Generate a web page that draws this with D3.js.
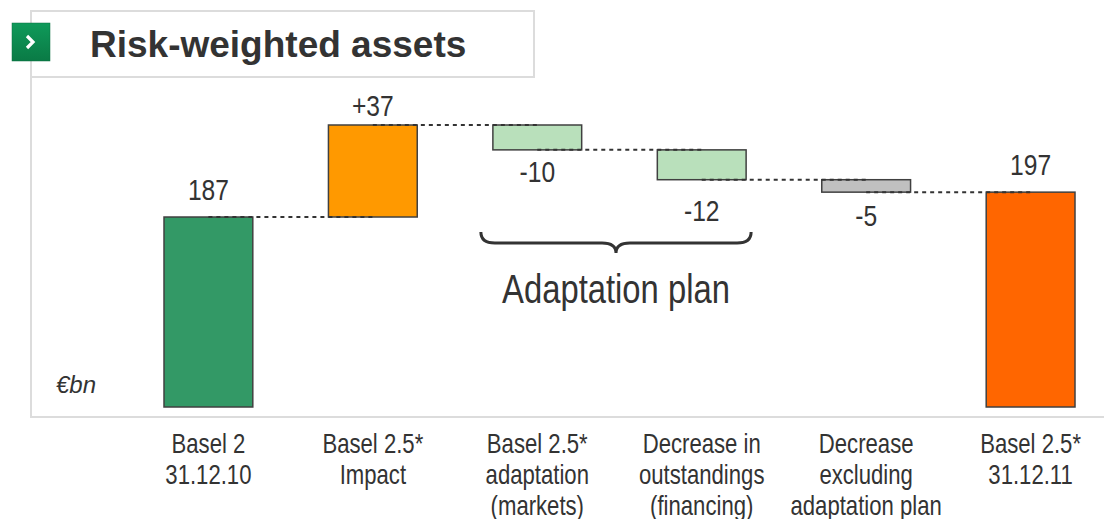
<!DOCTYPE html>
<html>
<head>
<meta charset="utf-8">
<script src="https://cdn.jsdelivr.net/npm/d3@7"></script>
<style>
  html, body { margin: 0; padding: 0; background: #ffffff; }
  svg { display: block; }
</style>
</head>
<body>
<svg id="chart" width="1104" height="519"></svg>
<script>
// ---------------- DATA ----------------
const title = "Risk-weighted assets";
const unitLabel = "€bn";
const groupLabel = "Adaptation plan";
const categories = [
  ["Basel 2", "31.12.10"],
  ["Basel 2.5*", "Impact"],
  ["Basel 2.5*", "adaptation", "(markets)"],
  ["Decrease in", "outstandings", "(financing)"],
  ["Decrease", "excluding", "adaptation plan"],
  ["Basel 2.5*", "31.12.11"]
];
const values = [187, 37, -10, -12, -5, 197];
const kinds = ["total", "delta", "delta", "delta", "delta", "total"];
const valueLabels = ["187", "+37", "-10", "-12", "-5", "197"];
const barColors = ["#339966", "#FF9900", "#B9E0BB", "#B9E0BB", "#C0C0C0", "#FF6600"];
const groupRange = [2, 3]; // indices covered by the "Adaptation plan" brace

// ---------------- LAYOUT ----------------
const sansFont = "'Liberation Sans', Arial, sans-serif";
const narrowScale = 0.82; // Arial Narrow look from Liberation Sans
const labelOffset = [17, 9, 32, 41, 34, 17];

const svg = d3.select("#chart");

function narrowText(parent, cx, cy, size, lines, lineH) {
  const t = parent.append("text")
    .attr("transform", `translate(${cx},${cy}) scale(${narrowScale},1)`)
    .attr("text-anchor", "middle")
    .attr("font-family", sansFont).attr("font-size", size).attr("fill", "#333333");
  if (Array.isArray(lines)) {
    lines.forEach((ln, j) => t.append("tspan").attr("x", 0).attr("dy", j === 0 ? 0 : lineH).text(ln));
  } else {
    t.text(lines);
  }
  return t;
}

// compute waterfall extents
let running = 0;
const bars = values.map((v, i) => {
  let start, end;
  if (kinds[i] === "total") { start = null; end = v; running = v; }
  else { start = running; end = running + v; running = end; }
  return { i, v, start, end, kind: kinds[i] };
});

const x = d3.scaleBand()
  .domain(d3.range(categories.length))
  .range([164, 1075])
  .paddingInner(0.46)
  .paddingOuter(0);

const y = d3.scaleLinear().domain([110.6, 224]).range([407, 125]);
const baseVal = y.domain()[0];

// ---------------- FRAME ----------------
const frameColor = "#dcdcdc";
svg.append("line").attr("x1", 31).attr("x2", 31).attr("y1", 11).attr("y2", 417)
  .attr("stroke", frameColor).attr("stroke-width", 2);
svg.append("line").attr("x1", 30).attr("x2", 1104).attr("y1", 417).attr("y2", 417)
  .attr("stroke", frameColor).attr("stroke-width", 2);
svg.append("rect").attr("x", 31).attr("y", 11).attr("width", 503).attr("height", 66)
  .attr("fill", "none").attr("stroke", frameColor).attr("stroke-width", 2);

// icon
const grad = svg.append("defs").append("linearGradient").attr("id", "ig")
  .attr("x1", 0).attr("y1", 0).attr("x2", 0).attr("y2", 1);
grad.append("stop").attr("offset", "0%").attr("stop-color", "#0f9a5a");
grad.append("stop").attr("offset", "100%").attr("stop-color", "#0a7a45");
svg.append("rect").attr("x", 12).attr("y", 23).attr("width", 38).attr("height", 38)
  .attr("fill", "url(#ig)").attr("stroke", "#0b7040").attr("stroke-width", 0.5);
svg.append("path").attr("d", "M27,36 L33,42 L27,48")
  .attr("fill", "none").attr("stroke", "#ffffff").attr("stroke-width", 3.2)
  .attr("stroke-linecap", "butt").attr("stroke-linejoin", "miter");

svg.append("text").attr("x", 90).attr("y", 57)
  .attr("font-family", sansFont)
  .attr("font-weight", "bold").attr("font-size", 37).attr("fill", "#333333")
  .text(title);

svg.append("text").attr("x", 56).attr("y", 393)
  .attr("font-family", sansFont)
  .attr("font-style", "italic").attr("font-size", 24).attr("fill", "#333333")
  .text(unitLabel);

// ---------------- BARS ----------------
svg.append("g").selectAll("rect").data(bars).join("rect")
  .attr("x", d => x(d.i))
  .attr("width", x.bandwidth())
  .attr("y", d => d.kind === "total" ? y(d.end) : y(Math.max(d.start, d.end)))
  .attr("height", d => d.kind === "total" ? y(baseVal) - y(d.end)
                                          : Math.abs(y(d.start) - y(d.end)))
  .attr("fill", d => barColors[d.i])
  .attr("stroke", "#404040").attr("stroke-width", 1.5);

// connectors
const conns = bars.slice(0, -1).map((b, k) => ({ from: k, level: b.end }));
svg.append("g").selectAll("line").data(conns).join("line")
  .attr("x1", d => x(d.from) + x.bandwidth() / 2)
  .attr("x2", d => x(d.from + 1) + x.bandwidth() / 2)
  .attr("y1", d => y(d.level)).attr("y2", d => y(d.level))
  .attr("stroke", "#333333").attr("stroke-width", 2)
  .attr("stroke-dasharray", "4,4");

// value labels
const valG = svg.append("g");
bars.forEach(d => {
  const cx = x(d.i) + x.bandwidth() / 2;
  const cy = (d.kind === "total" || d.v > 0) ? y(d.end) - labelOffset[d.i]
                                             : y(d.end) + labelOffset[d.i];
  narrowText(valG, cx, cy, 30, valueLabels[d.i]);
});

// category labels
const catG = svg.append("g");
categories.forEach((lines, i) => {
  narrowText(catG, x(i) + x.bandwidth() / 2, 453, 27, lines, 31);
});

// brace
const bx0 = x(groupRange[0]) - 12;
const bx1 = x(groupRange[1]) + x.bandwidth() + 5;
const bm = (bx0 + bx1) / 2;
const by0 = 232, by1 = 243, by2 = 253;
const bracePath = `M${bx0},${by0} Q${bx0},${by1} ${bx0 + 14},${by1} L${bm - 14},${by1} Q${bm},${by1} ${bm},${by2} Q${bm},${by1} ${bm + 14},${by1} L${bx1 - 14},${by1} Q${bx1},${by1} ${bx1},${by0}`;
svg.append("path").attr("d", bracePath)
  .attr("fill", "none").attr("stroke", "#333333").attr("stroke-width", 3);

narrowText(svg, bm, 303, 40, groupLabel);
</script>
</body>
</html>
